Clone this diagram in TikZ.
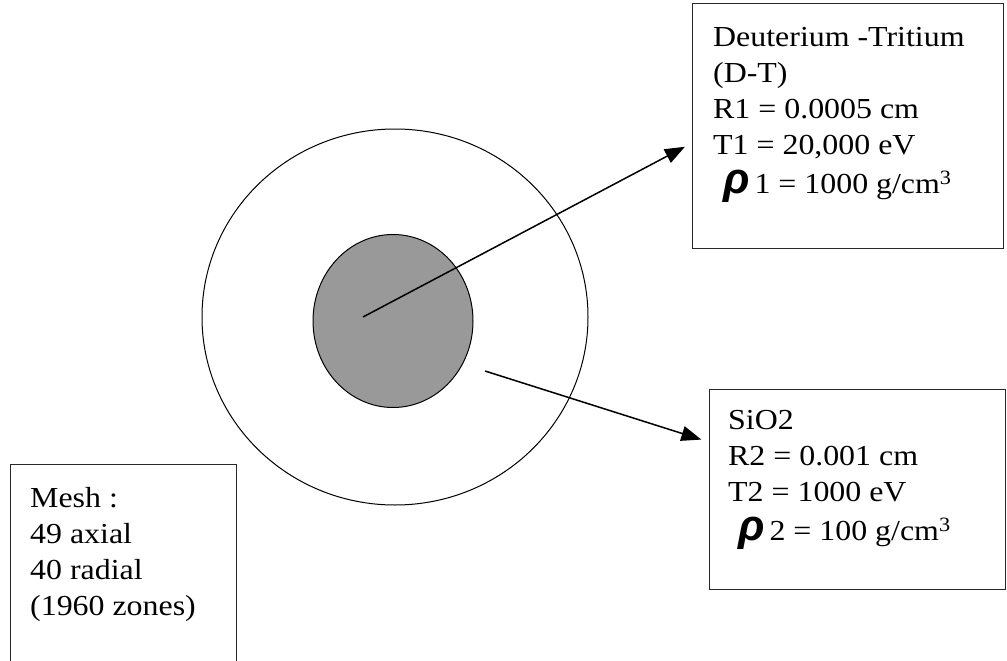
\documentclass[tikz,border=0pt]{standalone}
\usepackage{fontspec}
\setmainfont{Liberation Serif}[FakeStretch=1.1]
\newfontfamily\rhofont{Liberation Sans}[Scale=1.5]
\usepackage{tikz}
\usetikzlibrary{positioning,arrows.meta,shapes.geometric}
\tikzstyle{shell style}=[draw=black, shape=ellipse, line width=1pt, inner sep=0pt]
\tikzstyle{core style}=[draw=black, fill={rgb,255: red,153; green,153; blue,153},
shape=ellipse, line width=1pt, inner sep=0pt]
\tikzstyle{panel}=[draw={rgb,255: red,40; green,40; blue,40}, line width=1.4pt,
anchor=north west, inner sep=0pt]
\tikzstyle{panel text}=[anchor=north west, align=left, inner sep=0pt,
font=\fontsize{29}{36}\selectfont]
\tikzstyle{pointer}=[-{Triangle[length=20pt,width=15pt]}, line width=1.5pt,
shorten >=8pt]
\newcommand{\rhosym}{\hspace*{10pt}{\rhofont\bfseries\itshape ρ}\hspace{5pt}}

\begin{document}
\begin{tikzpicture}[x=1pt, y=-1pt]
            \clip (0,0) rectangle (1007,661);

            \node [style=shell style, minimum width=386, minimum height=376] (shell) at (395, 317) {};
            \node [style=core style, minimum width=160, minimum height=173] (core) at (393, 321) {};

            \node [style=panel, minimum width=311, minimum height=245] (dtbox) at (692, 3) {};
            \node [style=panel, minimum width=296, minimum height=200] (sibox) at (709, 389) {};
            \node [style=panel, minimum width=226, minimum height=230] (meshbox) at (10, 464) {};

            \node [style=panel text] (dttext) at (713, 27)
                {Deuterium -Tritium\\(D-T)\\R1 = 0.0005 cm\\T1 = 20,000 eV\\[3pt]
                 \rhosym 1 = 1000 g/cm\textsuperscript{3}};
            \node [style=panel text] (sitext) at (728, 410)
                {SiO2\\R2 = 0.001 cm\\T2 = 1000 eV\\[3pt]
                 \rhosym 2 = 100 g/cm\textsuperscript{3}};
            \node [style=panel text] (meshtext) at (30, 487)
                {Mesh :\\49 axial\\40 radial\\(1960 zones)};

            \coordinate (corestart) at (363, 317);
            \coordinate (shellstart) at (485, 371);

            \draw [style=pointer] (corestart) to (dtbox.west |- 0,143);
            \draw [style=pointer] (shellstart) to (sibox.west |- 0,442);
    \end{tikzpicture}
\end{document}
